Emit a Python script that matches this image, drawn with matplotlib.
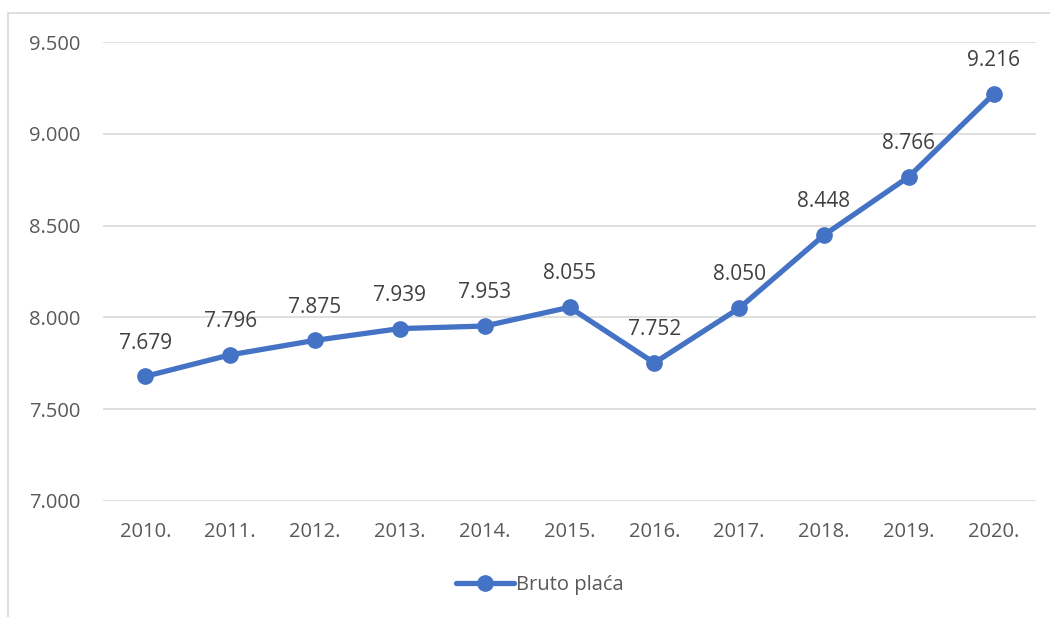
import matplotlib.pyplot as plt
from matplotlib.patches import Rectangle
from matplotlib.ticker import FuncFormatter

years = ['2010.', '2011.', '2012.', '2013.', '2014.', '2015.', '2016.',
         '2017.', '2018.', '2019.', '2020.']
bruto = [7679, 7796, 7875, 7939, 7953, 8055, 7752, 8050, 8448, 8766, 9216]
series_name = 'Bruto plaća'

blue = '#4472C4'
plt.rcParams['font.family'] = ['Open Sans', 'DejaVu Sans']

fig = plt.figure(figsize=(10.5, 6.17), dpi=100)
W, H = 1050, 617
ax = fig.add_axes([103 / W, 1 - 501 / H, (1036 - 103) / W, (501 - 42) / H])

# chart border
fig.patches.append(Rectangle((8 / W, -0.1), 1.2, 1 - 13 / H + 0.1,
                             transform=fig.transFigure, fill=False,
                             edgecolor='#d9d9d9', linewidth=1.2))

x = range(len(years))
line, = ax.plot(x, bruto, color=blue, linewidth=3.8, marker='o',
                markersize=11, label=series_name, solid_capstyle='round')
for xi, v in zip(x, bruto):
    ax.annotate(f'{v:,}'.replace(',', '.'), (xi, v), xytext=(0, 24),
                textcoords='offset points', ha='center', va='center',
                fontsize=15, color='#404040')

ax.set_xlim(-0.5, len(years) - 0.5)
ax.set_ylim(7000, 9500)
ax.set_yticks([7000, 7500, 8000, 8500, 9000, 9500])
ax.yaxis.set_major_formatter(FuncFormatter(lambda v, p: f'{int(v):,}'.replace(',', '.')))
ax.set_xticks(list(x))
ax.set_xticklabels(years)
ax.tick_params(length=0, labelsize=14.5, colors='#595959')
ax.tick_params(axis='x', pad=15)
ax.tick_params(axis='y', pad=16)
ax.grid(axis='y', color='#d9d9d9', linewidth=1.2)
ax.set_axisbelow(True)
for s in ax.spines.values():
    s.set_visible(False)

fig.legend(handles=[line], loc='center', bbox_to_anchor=(540 / W, 1 - 585 / H),
           frameon=False, fontsize=14.5, labelcolor='#595959',
           handlelength=2.9, handletextpad=0.1)

fig.savefig('out.png', dpi=100)
